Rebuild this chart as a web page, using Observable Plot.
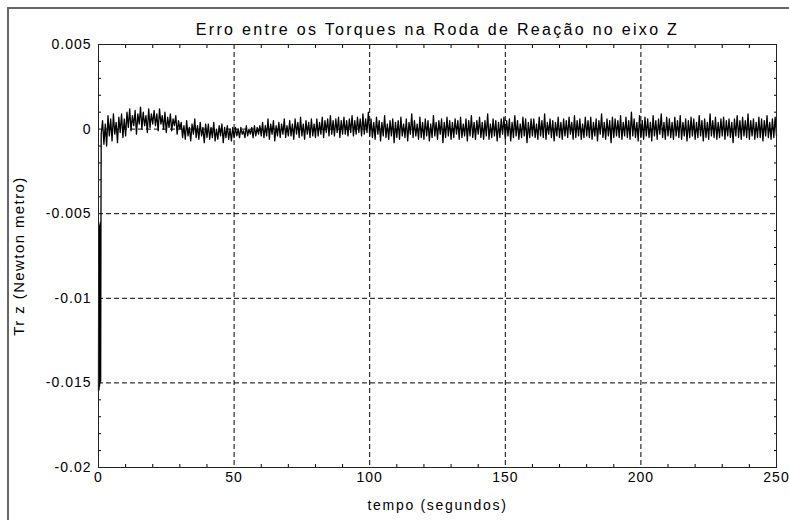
<!DOCTYPE html>
<html>
<head>
<meta charset="utf-8">
<script src="https://cdn.jsdelivr.net/npm/d3@7"></script>
<script src="https://cdn.jsdelivr.net/npm/@observablehq/plot@0.6"></script>
<style>
  html, body { margin: 0; padding: 0; background: #fff; }
  #wrap { position: relative; width: 789px; height: 520px; overflow: hidden; }
  #wrap svg text { letter-spacing: 1px; }
  .fl { position: absolute; background: #666; }
</style>
</head>
<body>
<div id="wrap">
  <div class="fl" style="left:7px; top:7px; width:2px; height:513px;"></div>
  <div class="fl" style="left:7px; top:7px; width:782px; height:2px;"></div>
</div>
<script>
// ---- Text ----
const title = "Erro entre os Torques na Roda de Reação no eixo Z";
const xLabel = "tempo (segundos)";
const yLabel = "Tr z (Newton metro)";

// ---- Ticks ----
const xTicks = [0, 50, 100, 150, 200, 250];
const xTickLabels = ["0", "50", "100", "150", "200", "250"];
const xMinor = [10, 20, 30, 40, 60, 70, 80, 90, 110, 120, 130, 140, 160, 170, 180, 190, 210, 220, 230, 240];
const yTicks = [-0.02, -0.015, -0.01, -0.005, 0, 0.005];
const yTickLabels = ["-0.02", "-0.015", "-0.01", "-0.005", "0", "0.005"];
const yMinor = [-0.019, -0.018, -0.017, -0.016, -0.014, -0.013, -0.012, -0.011, -0.009, -0.008, -0.007, -0.006,
                -0.004, -0.003, -0.002, -0.001, 0.001, 0.002, 0.003, 0.004];

// ---- Data (torque error, in units of 1e-4 N·m) ----
const unit = 1e-4;
// initial transient, t = 0 .. 1 s
const transientT = [0, 0.1, 0.2, 0.3, 0.4, 0.5, 0.6, 0.7, 0.8, 0.9, 1.0];
const transientV = [-155, -56, -154, -58, -152, -57, -150, -55, -149, -60, -3];
// sampled error every 0.5 s, from t = 1.5 s to 250 s
const noiseStart = 1.5;
const noiseStep = 0.5;
const noiseV = [
  5,-9,3,-10,8,-4,6,-7,9,-3,4,-8,7,-2,9,-5,6,-4,
  10,1,12,-1,8,2,11,-3,9,3,13,0,10,2,8,-2,12,1,9,3,
  11,2,9,-1,12,3,8,0,10,-2,7,1,9,-1,6,2,8,-3,5,0,
  4,-5,2,-6,5,-4,1,-7,3,-3,6,-5,2,-6,4,-4,1,-8,3,-5,
  3,-6,1,-5,4,-7,0,-6,2,-4,3,-8,1,-5,2,-6,0,-7,1,-5,
  1,-4,0,-5,1,-3,-1,-5,2,-4,0,-3,1,-5,2,-4,1,-3,2,-4,
  4,-5,2,-4,6,-6,3,-3,5,-7,2,-4,4,-5,3,-3,6,-5,2,-4,
  5,-4,3,-6,6,-3,4,-5,7,-4,3,-6,5,-3,4,-5,6,-4,3,-5,
  6,-4,4,-3,7,-5,5,-2,6,-4,8,-3,5,-4,6,-2,7,-5,5,-3,
  7,-3,5,-4,6,-2,8,-4,5,-3,7,-2,6,-4,9,-3,6,-2,10,-4,
  6,-5,4,-6,7,-3,5,-7,4,-4,8,-5,3,-6,5,-4,6,-8,4,-5,
  5,-6,7,-4,3,-5,6,-7,4,-3,9,-5,5,-4,3,-6,7,-5,4,-6,
  6,-4,5,-7,3,-5,8,-4,4,-6,5,-3,6,-8,4,-5,7,-4,5,-6,
  4,-5,6,-3,5,-6,7,-5,3,-4,6,-7,5,-4,8,-5,4,-6,5,-3,
  7,-5,4,-6,5,-4,9,-6,3,-5,6,-4,5,-7,4,-5,6,-3,7,-6,
  5,-4,6,-7,4,-5,8,-4,5,-6,3,-5,7,-4,6,-8,4,-5,6,-4,
  6,-5,3,-6,7,-4,5,-5,9,-6,4,-3,6,-5,5,-7,4,-4,7,-5,
  4,-6,6,-4,5,-5,7,-3,4,-6,8,-5,5,-4,6,-6,3,-5,7,-4,
  5,-5,7,-6,4,-4,6,-7,5,-3,9,-5,4,-6,6,-4,5,-8,7,-5,
  6,-4,5,-5,8,-6,4,-4,7,-5,5,-6,10,-4,6,-5,4,-7,8,-5,
  5,-6,7,-4,6,-5,4,-7,8,-4,5,-6,6,-3,9,-5,4,-6,7,-4,
  6,-5,4,-6,7,-4,5,-5,8,-6,4,-4,6,-7,5,-5,7,-4,6,-6,
  4,-5,8,-4,5,-7,6,-5,4,-6,9,-4,5,-5,7,-6,4,-5,6,-4,
  7,-6,5,-4,6,-5,4,-8,6,-4,8,-5,5,-6,7,-4,5,-5,9,-6,
  5,-4,6,-6,4,-5,7,-5,6,-7,5,-4,8,-5,4,-6,6,-5,7,-4
];

const data = [
  ...transientT.map((t, i) => ({t, v: transientV[i] * unit})),
  ...noiseV.map((v, i) => ({t: noiseStart + i * noiseStep, v: v * unit}))
];

const font = "'Liberation Sans', Arial, sans-serif";

const chart = Plot.plot({
  width: 789,
  height: 520,
  marginLeft: 98,
  marginRight: 13,
  marginTop: 44,
  marginBottom: 53,
  x: {domain: [0, 250]},
  y: {domain: [-0.02, 0.005]},
  style: {fontFamily: font, fontSize: "14px", color: "#000", background: "transparent"},
  marks: [
    Plot.gridX(xTicks.slice(1, -1), {stroke: "#000", strokeOpacity: 1, strokeDasharray: "5,3"}),
    Plot.gridY(yTicks.slice(1, -1), {stroke: "#000", strokeOpacity: 1, strokeDasharray: "5,3"}),
    Plot.line(data, {x: "t", y: "v", stroke: "#000", strokeWidth: 1.3}),
    Plot.axisX(xMinor, {anchor: "bottom", tickSize: -3, tickFormat: () => "", label: null}),
    Plot.axisX(xMinor, {anchor: "top", tickSize: -3, tickFormat: () => "", label: null}),
    Plot.axisY(yMinor, {anchor: "left", tickSize: -3, tickFormat: () => "", label: null}),
    Plot.axisY(yMinor, {anchor: "right", tickSize: -3, tickFormat: () => "", label: null}),
    Plot.axisX(xTicks, {anchor: "bottom", tickSize: 0, tickPadding: 5, fontSize: 14,
      tickFormat: d => xTickLabels[xTicks.indexOf(d)], label: null}),
    Plot.axisY(yTicks, {anchor: "left", tickSize: 0, tickPadding: 7, fontSize: 14,
      tickFormat: d => yTickLabels[yTicks.indexOf(d)], label: null}),
    Plot.frame({stroke: "#222", strokeWidth: 1}),
    Plot.text([title], {frameAnchor: "top", dy: -21, fontSize: 16, fill: "#000"}),
    Plot.text([xLabel], {frameAnchor: "bottom", dy: 42, fontSize: 14, fill: "#000"}),
    Plot.text([yLabel], {frameAnchor: "left", dx: -79, rotate: -90, textAnchor: "middle", fontSize: 15, fill: "#000"})
  ]
});
chart.style.position = "absolute";
chart.style.left = "0px";
chart.style.top = "0px";
const spacing = new Map([[title, "2.3px"], [xLabel, "1.7px"], [yLabel, "1.4px"]]);
d3.select(chart).selectAll("text").each(function () {
  const s = spacing.get(this.textContent);
  if (s) this.style.letterSpacing = s;
});
document.getElementById("wrap").appendChild(chart);
</script>
</body>
</html>
